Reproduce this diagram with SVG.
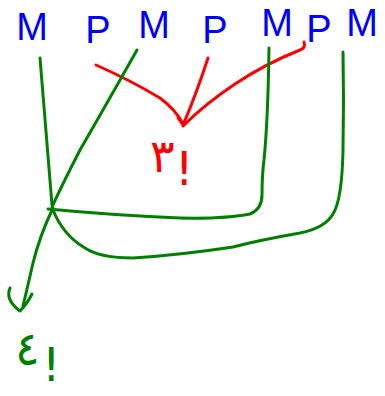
<svg xmlns="http://www.w3.org/2000/svg" width="385" height="396" viewBox="0 0 385 396">
<style>
.l{font-family:"Liberation Sans",Arial,sans-serif;font-size:38px;fill:#0000ff;text-anchor:middle}
.g{fill:none;stroke:#008000;stroke-width:3;stroke-linecap:round;stroke-linejoin:round}
.r{fill:none;stroke:#ff0000;stroke-width:3;stroke-linecap:round;stroke-linejoin:round}
.f{font-family:"DejaVu Sans",sans-serif;font-size:46px}
</style>
<rect width="385" height="396" fill="#ffffff"/>
<g id="letters">
<text class="l" x="32" y="40">M</text>
<text class="l" x="98" y="43">P</text>
<text class="l" x="154" y="38">M</text>
<text class="l" x="215" y="43">P</text>
<text class="l" x="277" y="36">M</text>
<text class="l" x="319" y="42">P</text>
<text class="l" x="362" y="36">M</text>
</g>
<g id="connectors">
<path class="r" d="M96 65 Q130 80 160 98 Q176 110 183 124"/>
<path class="r" d="M208 58 Q196 95 183 125 L178 118"/>
<path class="r" d="M304 42 Q306 48 300 50 Q265 64 235 84 Q205 104 183 126"/>
<path class="g" d="M40 58 Q46 130 52 205"/>
<path class="g" d="M137 50 Q110 98 80 150 Q62 185 52 207"/>
<path class="g" d="M53 208 Q40 235 33 263 Q28 285 23 306"/>
<path class="g" d="M10 288 Q5 300 20 311 Q27 304 32 294"/>
<path class="g" d="M48 209 Q110 215 180 218 Q225 219 250 214 Q262 209 262 195 Q262 175 264 160 Q268 120 269 48"/>
<path class="g" d="M343 52 Q344 100 343 150 Q342 200 333 214 Q325 228 300 233 Q260 240 233 247 Q180 255 133 258 Q100 258 85 248 Q63 235 53 210"/>
</g>
<g id="label3" fill="#ff0000">
<text class="f" x="150" y="172">٣<tspan x="175" y="185">!</tspan></text>
</g>
<g id="label4" fill="#008000">
<text class="f" x="15" y="365">٤<tspan x="42" y="381">!</tspan></text>
</g>
</svg>
